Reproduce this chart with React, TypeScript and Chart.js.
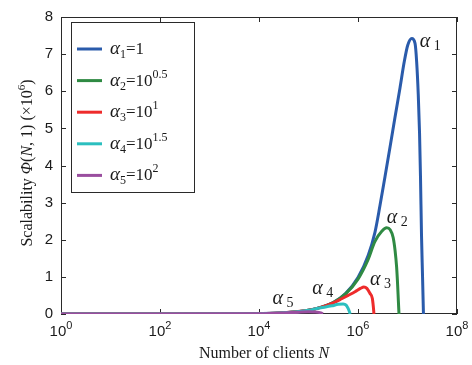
import React, { useEffect, useRef } from "react";
import { Chart, registerables } from "chart.js";

Chart.register(...registerables);

// Axis ticks
const X_TICKS = [1, 1e2, 1e4, 1e6, 1e8];
const X_TICK_EXPONENTS = ["0", "2", "4", "6", "8"];
const Y_MIN = 0;
const Y_MAX = 8;

// Number of clients N and scalability Φ(N,1) (×10^6) for each α
const A1_N = [1, 10, 1e2, 1e3, 1e4, 3.16e4, 1e5, 3.16e5, 5.6e5, 1e6, 1.61e6, 2.2e6, 2.78e6, 3.51e6, 4.43e6, 5.58e6, 7.05e6, 8.61e6, 1.01e7, 1.22e7, 1.42e7, 1.53e7, 1.65e7, 1.75e7, 1.83e7, 1.92e7, 2.01e7, 2.1e7];
const A1_PHI = [0, 0.00001, 0.0001, 0.001, 0.01, 0.032, 0.1, 0.31, 0.55, 0.98, 1.58, 2.2, 2.92, 3.7, 4.49, 5.29, 6.09, 6.8, 7.24, 7.42, 7.29, 6.8, 5.91, 4.89, 3.7, 2.1, 1.04, 0];

const A2_N = [1, 1e2, 1e4, 1e5, 3.16e5, 5.6e5, 1e6, 1.58e6, 2.19e6, 3.02e6, 3.8e6, 4.47e6, 5.13e6, 5.62e6, 6.03e6, 6.31e6, 6.53e6, 6.73e6];
const A2_PHI = [0, 0.0001, 0.01, 0.1, 0.31, 0.54, 0.94, 1.45, 1.95, 2.23, 2.32, 2.27, 2.06, 1.7, 1.26, 0.8, 0.37, 0];

const A3_N = [1, 1e2, 1e4, 1e5, 1.78e5, 3.16e5, 4.68e5, 6.31e5, 8.71e5, 1.12e6, 1.32e6, 1.51e6, 1.74e6, 1.95e6, 2.04e6, 2.1e6];
const A3_PHI = [0, 0.0001, 0.01, 0.1, 0.18, 0.3, 0.41, 0.5, 0.6, 0.69, 0.73, 0.69, 0.56, 0.42, 0.2, 0];

const A4_N = [1, 1e2, 1e4, 3.16e4, 1e5, 1.58e5, 2.95e5, 3.98e5, 5.01e5, 5.75e5, 6.31e5, 6.76e5, 6.92e5];
const A4_PHI = [0, 0.0001, 0.01, 0.031, 0.1, 0.155, 0.22, 0.26, 0.27, 0.24, 0.15, 0.05, 0];

const A5_N = [1, 1e2, 1e4, 3.16e4, 6.31e4, 1e5, 1.41e5, 1.78e5, 1.95e5];
const A5_PHI = [0, 0.0001, 0.01, 0.03, 0.05, 0.06, 0.055, 0.03, 0];

const SERIES_N = [A1_N, A2_N, A3_N, A4_N, A5_N];
const SERIES_PHI = [A1_PHI, A2_PHI, A3_PHI, A4_PHI, A5_PHI];
const SUBSCRIPTS = ["1", "2", "3", "4", "5"];
// legend value text: base and exponent
const LEGEND_BASE = ["=1", "=10", "=10", "=10", "=10"];
const LEGEND_EXP = ["", "0.5", "1", "1.5", "2"];

const COLORS = ["#2a5bab", "#2f8a43", "#ee2b2b", "#2bbfbf", "#9a4e9f"];
// pixel offset of each curve label from its peak
const LABEL_OFFSETS: [number, number][] = [[8, 8], [0, -5], [6, -2], [-31, -10], [-36, -8]];

const SERIF = '"Liberation Serif", "Times New Roman", serif';
const SANS = '"Liberation Sans", Arial, sans-serif';
const INK = "#1a1a1a";

type Run = { t: string; font: string; dy?: number };

function runsWidth(ctx: CanvasRenderingContext2D, runs: Run[]) {
  let w = 0;
  for (const r of runs) {
    ctx.font = r.font;
    w += ctx.measureText(r.t).width;
  }
  return w;
}

function drawRuns(ctx: CanvasRenderingContext2D, runs: Run[], x: number, y: number, align: "left" | "center") {
  let cx = align === "center" ? x - runsWidth(ctx, runs) / 2 : x;
  ctx.textAlign = "left";
  ctx.textBaseline = "alphabetic";
  for (const r of runs) {
    ctx.font = r.font;
    ctx.fillText(r.t, cx, y + (r.dy || 0));
    cx += ctx.measureText(r.t).width;
  }
}

const framePlugin = {
  id: "frame",
  beforeDatasetsDraw(chart: any) {
    const { ctx, chartArea: a, scales } = chart;
    ctx.save();
    ctx.strokeStyle = "#2a2a2a";
    ctx.lineWidth = 1;
    ctx.strokeRect(a.left + 0.5, a.top + 0.5, a.right - a.left - 1, a.bottom - a.top - 1);
    const tl = 5;
    ctx.beginPath();
    for (const v of X_TICKS) {
      const px = Math.round(scales.x.getPixelForValue(v)) + 0.5;
      ctx.moveTo(px, a.bottom);
      ctx.lineTo(px, a.bottom - tl);
      ctx.moveTo(px, a.top);
      ctx.lineTo(px, a.top + tl);
    }
    for (let v = Y_MIN; v <= Y_MAX; v++) {
      const py = Math.round(scales.y.getPixelForValue(v)) + 0.5;
      ctx.moveTo(a.left, py);
      ctx.lineTo(a.left + tl, py);
      ctx.moveTo(a.right, py);
      ctx.lineTo(a.right - tl, py);
    }
    ctx.stroke();

    // x tick labels 10^k
    ctx.fillStyle = INK;
    X_TICKS.forEach((v, i) => {
      const px = scales.x.getPixelForValue(v);
      drawRuns(
        ctx,
        [
          { t: "10", font: `15px ${SANS}` },
          { t: X_TICK_EXPONENTS[i], font: `11px ${SANS}`, dy: -7 },
        ],
        px,
        a.bottom + 22,
        "center"
      );
    });

    // axis titles
    drawRuns(
      ctx,
      [
        { t: "Number of clients ", font: `16px ${SERIF}` },
        { t: "N", font: `italic 16px ${SERIF}` },
      ],
      264,
      358,
      "center"
    );
    ctx.save();
    ctx.translate(32, 163);
    ctx.rotate(-Math.PI / 2);
    drawRuns(
      ctx,
      [
        { t: "Scalability ", font: `16px ${SERIF}` },
        { t: "Φ", font: `italic 16px ${SERIF}` },
        { t: "(", font: `16px ${SERIF}` },
        { t: "N", font: `italic 16px ${SERIF}` },
        { t: ", 1) (×10", font: `16px ${SERIF}` },
        { t: "6", font: `11px ${SERIF}`, dy: -7 },
        { t: ")", font: `16px ${SERIF}` },
      ],
      0,
      0,
      "center"
    );
    ctx.restore();
    ctx.restore();
  },
  afterDraw(chart: any) {
    const { ctx, scales } = chart;
    ctx.save();
    // curve labels next to each peak
    ctx.fillStyle = INK;
    SERIES_PHI.forEach((phi, i) => {
      let k = 0;
      phi.forEach((v, j) => {
        if (v > phi[k]) k = j;
      });
      const px = scales.x.getPixelForValue(SERIES_N[i][k]);
      const py = scales.y.getPixelForValue(phi[k]);
      const [ox, oy] = LABEL_OFFSETS[i];
      drawRuns(
        ctx,
        [
          { t: "α", font: `italic 20px ${SERIF}` },
          { t: " " + SUBSCRIPTS[i], font: `14px ${SERIF}`, dy: 3 },
        ],
        px + ox,
        py + oy,
        "left"
      );
    });

    // legend
    const lx = 71, ly = 22, lw = 123, lh = 170;
    ctx.fillStyle = "#ffffff";
    ctx.fillRect(lx, ly, lw, lh);
    ctx.strokeStyle = "#2a2a2a";
    ctx.lineWidth = 1;
    ctx.strokeRect(lx + 0.5, ly + 0.5, lw, lh);
    for (let i = 0; i < 5; i++) {
      const cy = 49 + i * 31.6;
      ctx.strokeStyle = COLORS[i];
      ctx.lineWidth = 3;
      ctx.beginPath();
      ctx.moveTo(77, cy);
      ctx.lineTo(102, cy);
      ctx.stroke();
      ctx.fillStyle = INK;
      const runs: Run[] = [
        { t: "α", font: `italic 19px ${SERIF}` },
        { t: SUBSCRIPTS[i], font: `12px ${SERIF}`, dy: 4 },
        { t: LEGEND_BASE[i], font: `17px ${SERIF}` },
      ];
      if (LEGEND_EXP[i]) runs.push({ t: LEGEND_EXP[i], font: `12px ${SERIF}`, dy: -8 });
      drawRuns(ctx, runs, 110, cy + 5, "left");
    }
    ctx.restore();
  },
};

export default function App() {
  const ref = useRef<HTMLCanvasElement | null>(null);

  useEffect(() => {
    if (!ref.current) return;
    const datasets = SERIES_N.map((ns, i) => ({
      label: "α" + SUBSCRIPTS[i],
      data: ns.map((n, j) => ({ x: n, y: SERIES_PHI[i][j] })),
      borderColor: COLORS[i],
      backgroundColor: COLORS[i],
      borderWidth: 3,
      pointRadius: 0,
      fill: false,
      cubicInterpolationMode: "monotone" as const,
      order: 5 - i,
    }));
    const chart = new Chart(ref.current, {
      type: "line",
      data: { datasets },
      options: {
        animation: false,
        responsive: false,
        devicePixelRatio: 1,
        layout: { padding: { left: 0, top: 13, right: 15, bottom: 0 } },
        plugins: { legend: { display: false }, tooltip: { enabled: false } },
        scales: {
          x: {
            type: "logarithmic",
            min: 1,
            max: 1e8,
            grid: { display: false, drawTicks: false },
            border: { display: false },
            ticks: { display: false },
            afterBuildTicks: (s: any) => {
              s.ticks = X_TICKS.map((v) => ({ value: v }));
            },
            afterFit: (s: any) => {
              s.height = 51;
            },
          },
          y: {
            type: "linear",
            min: Y_MIN,
            max: Y_MAX,
            grid: { display: false, drawTicks: false },
            border: { display: false },
            ticks: {
              stepSize: 1,
              padding: 8,
              color: INK,
              font: { family: SANS, size: 15 },
            },
            afterFit: (s: any) => {
              s.width = 61;
            },
          },
        },
      },
      plugins: [framePlugin],
    });
    return () => chart.destroy();
  }, []);

  return (
    <div style={{ position: "absolute", left: 0, top: 0, width: 472, height: 365, background: "#fff" }}>
      <canvas ref={ref} width={472} height={365} style={{ display: "block" }} />
    </div>
  );
}
